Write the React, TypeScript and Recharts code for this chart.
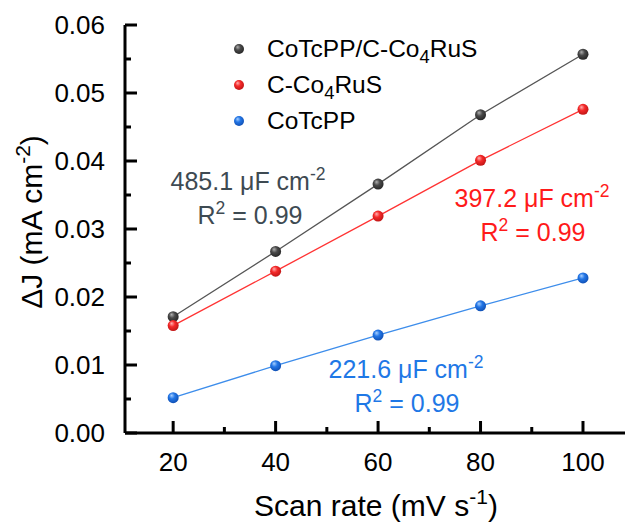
import React from 'react';
import { LineChart, Line, XAxis, YAxis } from 'recharts';

const scanRates = [20, 40, 60, 80, 100];
const hybridValues = [0.0171, 0.0267, 0.0366, 0.0468, 0.0557];
const sulfideValues = [0.0158, 0.0238, 0.0319, 0.0401, 0.0476];
const porphyrinValues = [0.0052, 0.0099, 0.0144, 0.0187, 0.0228];

const xTicks = [20, 30, 40, 50, 60, 70, 80, 90, 100];
const xLabels = [20, 40, 60, 80, 100];
const yTicks = [0, 0.005, 0.01, 0.015, 0.02, 0.025, 0.03, 0.035, 0.04, 0.045, 0.05, 0.055, 0.06];
const yLabels = ['0.00', '0.01', '0.02', '0.03', '0.04', '0.05', '0.06'];

const seriesNames = ['CoTcPP/C-Co4RuS', 'C-Co4RuS', 'CoTcPP'];

const data = scanRates.map((rate, i) => ({
  rate,
  hybrid: hybridValues[i],
  sulfide: sulfideValues[i],
  porphyrin: porphyrinValues[i],
}));

const FONT = 'Arial, "Liberation Sans", sans-serif';

const BALLS = {
  black: { id: 'ballBlack', hi: '#b0b0b0', mid: '#4a4a4a', lo: '#262626', line: '#555555' },
  red: { id: 'ballRed', hi: '#ffb0b0', mid: '#f52a2a', lo: '#c01515', line: '#ff3333' },
  blue: { id: 'ballBlue', hi: '#a8d0ff', mid: '#2376e6', lo: '#1050b5', line: '#3d8deb' },
};

const Gradients = () => (
  <defs>
    {Object.values(BALLS).map(b => (
      <radialGradient key={b.id} id={b.id} cx="45%" cy="40%" r="60%" fx="35%" fy="30%">
        <stop offset="0%" stopColor={b.hi} />
        <stop offset="45%" stopColor={b.mid} />
        <stop offset="100%" stopColor={b.lo} />
      </radialGradient>
    ))}
  </defs>
);

const ballDot = (id: string) => (props: any) => {
  const { cx, cy, index } = props;
  if (cx == null || cy == null) return <g key={index} />;
  return <circle key={index} cx={cx} cy={cy} r={5.5} fill={`url(#${id})`} />;
};

const XTick = (props: any) => {
  const { x, y, payload } = props;
  const major = xLabels.includes(payload.value);
  return (
    <g>
      <line x1={x} x2={x} y1={y} y2={y - (major ? 12 : 6)} stroke="#000" strokeWidth={3} />
      {major && (
        <text x={x} y={y + 38} textAnchor="middle" fontSize={26} fontFamily={FONT} fill="#000">
          {payload.value}
        </text>
      )}
    </g>
  );
};

const YTick = (props: any) => {
  const { x, y, payload } = props;
  const label = yLabels.find(l => Math.abs(parseFloat(l) - payload.value) < 1e-9);
  return (
    <g>
      <line x1={x} x2={x + (label ? 12 : 6)} y1={y} y2={y} stroke="#000" strokeWidth={3} />
      {label && (
        <text x={x - 20} y={y + 9} textAnchor="end" fontSize={26} fontFamily={FONT} fill="#000">
          {label}
        </text>
      )}
    </g>
  );
};

const Sub = ({ children }: any) => (
  <tspan fontSize="0.75em" dy={6}>{children}</tspan>
);

const App = () => {
  return (
    <div style={{ position: 'absolute', left: 0, top: 0, width: 625, height: 526, background: '#fff' }}>
      <LineChart
        width={625}
        height={526}
        data={data}
        margin={{ top: 25, right: 0, bottom: 0, left: 0 }}
      >
        <Gradients />
        <XAxis
          dataKey="rate"
          type="number"
          domain={[10.6, 108.2]}
          ticks={xTicks}
          height={93}
          tickLine={false}
          tickSize={0}
          tickMargin={0}
          axisLine={{ stroke: '#000', strokeWidth: 3 }}
          tick={<XTick />}
          interval={0}
        />
        <XAxis
          xAxisId="top"
          orientation="top"
          dataKey="rate"
          type="number"
          domain={[10.6, 108.2]}
          height={0}
          tick={false}
          tickLine={false}
          axisLine={{ stroke: '#000', strokeWidth: 3 }}
        />
        <YAxis
          type="number"
          domain={[0, 0.06]}
          ticks={yTicks}
          width={125}
          tickLine={false}
          tickSize={0}
          tickMargin={0}
          axisLine={{ stroke: '#000', strokeWidth: 3 }}
          tick={<YTick />}
          interval={0}
        />
        <Line
          dataKey="hybrid"
          stroke={BALLS.black.line}
          strokeWidth={1.3}
          dot={ballDot(BALLS.black.id)}
          activeDot={false}
          isAnimationActive={false}
        />
        <Line
          dataKey="sulfide"
          stroke={BALLS.red.line}
          strokeWidth={1.3}
          dot={ballDot(BALLS.red.id)}
          activeDot={false}
          isAnimationActive={false}
        />
        <Line
          dataKey="porphyrin"
          stroke={BALLS.blue.line}
          strokeWidth={1.3}
          dot={ballDot(BALLS.blue.id)}
          activeDot={false}
          isAnimationActive={false}
        />
      </LineChart>

      <svg
        width={625}
        height={526}
        style={{ position: 'absolute', left: 0, top: 0, pointerEvents: 'none' }}
        fontFamily={FONT}
      >
        <defs>
          {Object.values(BALLS).map(b => (
            <radialGradient key={b.id} id={`${b.id}L`} cx="45%" cy="40%" r="60%" fx="35%" fy="30%">
              <stop offset="0%" stopColor={b.hi} />
              <stop offset="45%" stopColor={b.mid} />
              <stop offset="100%" stopColor={b.lo} />
            </radialGradient>
          ))}
        </defs>

        {/* axis titles */}
        <text x={376} y={516} textAnchor="middle" fontSize={30} fill="#000">
          Scan rate (mV s<tspan fontSize="0.7em" dy={-12}>-1</tspan><tspan dy={12}>)</tspan>
        </text>
        <text
          x={0}
          y={0}
          transform="translate(42 222) rotate(-90)"
          textAnchor="middle"
          fontSize={30}
          fill="#000"
        >
          ΔJ (mA cm<tspan fontSize="0.7em" dy={-12}>-2</tspan><tspan dy={12}>)</tspan>
        </text>

        {/* legend */}
        {[BALLS.black, BALLS.red, BALLS.blue].map((b, i) => (
          <circle key={b.id} cx={239} cy={49 + i * 36} r={5} fill={`url(#${b.id}L)`} />
        ))}
        <text x={267} y={57} fontSize={24.5} fill="#000">
          CoTcPP/C-Co<Sub>4</Sub><tspan dy={-6}>RuS</tspan>
        </text>
        <text x={267} y={93} fontSize={24.5} fill="#000">
          C-Co<Sub>4</Sub><tspan dy={-6}>RuS</tspan>
        </text>
        <text x={267} y={129} fontSize={24.5} fill="#000">
          {seriesNames[2]}
        </text>

        {/* slope annotations */}
        <g fill="#3e4a52" fontSize={25} textAnchor="middle">
          <text x={248} y={190}>
            485.1 μF cm<tspan fontSize="0.7em" dy={-10}>-2</tspan>
          </text>
          <text x={250} y={224}>
            R<tspan fontSize="0.7em" dy={-10}>2</tspan><tspan dy={10}> = 0.99</tspan>
          </text>
        </g>
        <g fill="#ff1a1a" fontSize={25} textAnchor="middle">
          <text x={532} y={207}>
            397.2 μF cm<tspan fontSize="0.7em" dy={-10}>-2</tspan>
          </text>
          <text x={533} y={241}>
            R<tspan fontSize="0.7em" dy={-10}>2</tspan><tspan dy={10}> = 0.99</tspan>
          </text>
        </g>
        <g fill="#1f78e6" fontSize={25} textAnchor="middle">
          <text x={406} y={378}>
            221.6 μF cm<tspan fontSize="0.7em" dy={-10}>-2</tspan>
          </text>
          <text x={407} y={412}>
            R<tspan fontSize="0.7em" dy={-10}>2</tspan><tspan dy={10}> = 0.99</tspan>
          </text>
        </g>
      </svg>
    </div>
  );
};

export default App;
